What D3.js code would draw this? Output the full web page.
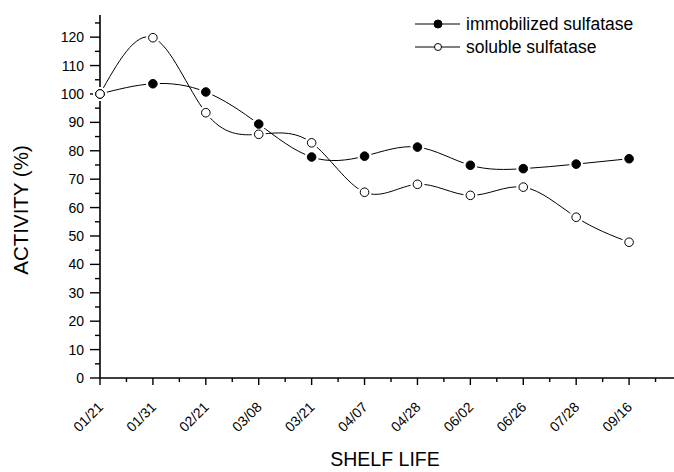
<!DOCTYPE html>
<html>
<head>
<meta charset="utf-8">
<script src="https://cdn.jsdelivr.net/npm/d3@7"></script>
<style>
  body { margin: 0; background: #fff; }
  svg { font-family: Arial, "Liberation Sans", sans-serif; }
</style>
</head>
<body>
<svg width="674" height="472"></svg>
<script>
const dates = ["01/21", "01/31", "02/21", "03/08", "03/21", "04/07", "04/28", "06/02", "06/26", "07/28", "09/16"];
const immobilized = [100, 103.6, 100.7, 89.4, 77.8, 78.1, 81.3, 74.9, 73.7, 75.3, 77.2];
const soluble = [100, 119.8, 93.4, 85.8, 82.8, 65.4, 68.2, 64.3, 67.2, 56.6, 47.8];
const yTicks = d3.range(0, 121, 10);

const svg = d3.select("svg");
const left = 100, bottom = 378;

let x = d3.scaleLinear().domain([0, 11]).range([left, 682]);
let y = d3.scaleLinear().domain([0, 127.8]).range([bottom, 15]);

// axes
let xAxis = svg.append("g").attr("transform", `translate(0,${bottom})`);
xAxis.append("line").attr("x1", left).attr("x2", 682).attr("stroke", "#000").attr("stroke-width", 1.6);
d3.range(0, 11.5, 0.5).forEach((v) => {
    let major = v % 1 === 0;
    xAxis.append("line")
        .attr("x1", x(v)).attr("x2", x(v))
        .attr("y1", 0).attr("y2", major ? 7 : 4)
        .attr("stroke", "#000").attr("stroke-width", 1.4);
});
dates.forEach((d, i) => {
    xAxis.append("text")
        .attr("transform", `translate(${x(i) + 4},${30}) rotate(-45)`)
        .attr("text-anchor", "end")
        .attr("font-size", 14)
        .text(d);
});

let yAxis = svg.append("g").attr("transform", `translate(${left},0)`);
yAxis.append("line").attr("y1", y(0)).attr("y2", 15).attr("stroke", "#000").attr("stroke-width", 1.6);
d3.range(0, 126, 5).forEach((v) => {
    let major = v % 10 === 0;
    yAxis.append("line")
        .attr("x1", major ? -10 : -5).attr("x2", 0)
        .attr("y1", y(v)).attr("y2", y(v))
        .attr("stroke", "#000").attr("stroke-width", 1.4);
});
yTicks.forEach((v) => {
    yAxis.append("text")
        .attr("x", -16).attr("y", y(v)).attr("dy", "0.36em")
        .attr("text-anchor", "end")
        .attr("font-size", 14)
        .text(v);
});

svg.append("text")
    .attr("transform", `translate(28,210) rotate(-90)`)
    .attr("text-anchor", "middle")
    .attr("font-size", 20.5)
    .text("ACTIVITY (%)");
svg.append("text")
    .attr("x", 385).attr("y", 466)
    .attr("text-anchor", "middle")
    .attr("font-size", 19.5)
    .text("SHELF LIFE");

// series
let line = d3.line().x((d, i) => x(i)).y((d) => y(d)).curve(d3.curveNatural);
let series = [
    { values: immobilized, fill: "#000" },
    { values: soluble, fill: "#fff" }
];

series.forEach((s) => {
    svg.append("path")
        .attr("d", line(s.values))
        .attr("fill", "none")
        .attr("stroke", "#000")
        .attr("stroke-width", 1);
});
series.forEach((s) => {
    s.values.forEach((v, i) => {
        svg.append("circle")
            .attr("cx", x(i)).attr("cy", y(v)).attr("r", 7)
            .attr("fill", "#fff");
    });
});
series.forEach((s) => {
    s.values.forEach((v, i) => {
        svg.append("circle")
            .attr("cx", x(i)).attr("cy", y(v)).attr("r", 4.3)
            .attr("fill", s.fill)
            .attr("stroke", "#000").attr("stroke-width", 1);
    });
});

// legend
let legendItems = [
    { label: "immobilized sulfatase", fill: "#000", r: 4 },
    { label: "soluble sulfatase", fill: "#fff", r: 3.5 }
];
legendItems.forEach((d, i) => {
    let g = svg.append("g").attr("transform", `translate(415,${24 + i * 23})`);
    g.append("line").attr("x1", 0).attr("x2", 45).attr("stroke", "#000").attr("stroke-width", 1);
    g.append("circle").attr("cx", 23).attr("r", d.r).attr("fill", d.fill).attr("stroke", "#000");
    g.append("text").attr("x", 51).attr("dy", "0.35em").attr("font-size", 17.5).text(d.label);
});
</script>
</body>
</html>
